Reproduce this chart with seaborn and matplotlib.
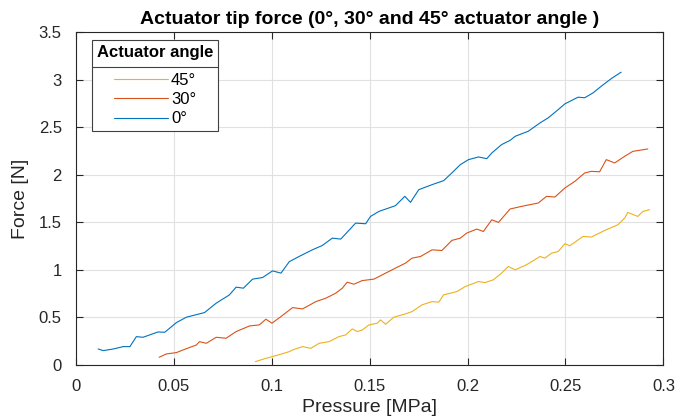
import numpy as np
import pandas as pd
import matplotlib
matplotlib.use("Agg")
import matplotlib.pyplot as plt
import seaborn as sns
from matplotlib.ticker import FuncFormatter
from matplotlib.lines import Line2D

# ---- data ----
p0 = [0.0115, 0.0141, 0.0192, 0.0243, 0.0277, 0.031, 0.0344, 0.0378, 0.042, 0.0455,
      0.0514, 0.0565, 0.0658, 0.0717, 0.0785, 0.0819, 0.0856, 0.0903, 0.0954, 0.1005,
      0.1048, 0.109, 0.114, 0.1208, 0.1259, 0.131, 0.1353, 0.1429, 0.148, 0.1505,
      0.1548, 0.1632, 0.168, 0.1709, 0.1751, 0.1819, 0.1878, 0.192, 0.1963, 0.2005,
      0.2056, 0.2098, 0.2124, 0.2174, 0.2217, 0.2243, 0.231, 0.237, 0.2412, 0.2463,
      0.2497, 0.2564, 0.2598, 0.2641, 0.2683, 0.2734, 0.2784]
f0 = [0.168, 0.151, 0.168, 0.193, 0.193, 0.298, 0.291, 0.316, 0.347, 0.344,
      0.445, 0.502, 0.551, 0.649, 0.737, 0.818, 0.807, 0.902, 0.919, 0.989,
      0.965, 1.085, 1.14, 1.21, 1.256, 1.333, 1.323, 1.491, 1.484, 1.561,
      1.614, 1.674, 1.772, 1.709, 1.842, 1.895, 1.937, 2.018, 2.105, 2.158,
      2.186, 2.168, 2.228, 2.316, 2.36, 2.403, 2.456, 2.544, 2.597, 2.684,
      2.744, 2.814, 2.808, 2.86, 2.93, 3.01, 3.077]

p30 = [0.0426, 0.0463, 0.0514, 0.0548, 0.0616, 0.0632, 0.0667, 0.0717, 0.0768, 0.0819,
       0.0887, 0.0937, 0.0971, 0.1002, 0.1048, 0.1107, 0.1158, 0.1226, 0.1277, 0.1327,
       0.1361, 0.1386, 0.142, 0.1463, 0.1522, 0.1582, 0.1632, 0.1683, 0.1717, 0.176,
       0.1819, 0.1869, 0.192, 0.1963, 0.1996, 0.2047, 0.2081, 0.2124, 0.2158, 0.2217,
       0.2276, 0.2361, 0.2403, 0.2446, 0.2497, 0.2548, 0.2598, 0.2632, 0.2674, 0.2708,
       0.2751, 0.2802, 0.2844, 0.292]
f30 = [0.081, 0.116, 0.13, 0.158, 0.21, 0.245, 0.228, 0.291, 0.281, 0.351,
       0.41, 0.421, 0.481, 0.439, 0.509, 0.603, 0.589, 0.666, 0.702, 0.754,
       0.807, 0.87, 0.849, 0.887, 0.902, 0.965, 1.018, 1.07, 1.123, 1.14,
       1.21, 1.203, 1.309, 1.333, 1.386, 1.428, 1.403, 1.526, 1.498, 1.639,
       1.667, 1.702, 1.772, 1.765, 1.86, 1.93, 2.018, 2.035, 2.03, 2.158,
       2.123, 2.193, 2.245, 2.27]

p45 = [0.0917, 0.0971, 0.1022, 0.109, 0.1107, 0.1158, 0.12, 0.1243, 0.1293, 0.1344,
       0.1378, 0.1412, 0.1437, 0.1463, 0.1497, 0.1539, 0.1556, 0.1582, 0.1624, 0.1683,
       0.1717, 0.1768, 0.1819, 0.1853, 0.1878, 0.1912, 0.1946, 0.1988, 0.2056, 0.209,
       0.2132, 0.2174, 0.2208, 0.2243, 0.2301, 0.237, 0.2395, 0.2429, 0.2463, 0.2497,
       0.2522, 0.259, 0.2632, 0.27, 0.2768, 0.2802, 0.2818, 0.2869, 0.2895, 0.2929]
f45 = [0.035, 0.07, 0.098, 0.14, 0.158, 0.193, 0.175, 0.228, 0.245, 0.298,
       0.316, 0.379, 0.351, 0.368, 0.421, 0.439, 0.474, 0.428, 0.502, 0.537,
       0.561, 0.632, 0.666, 0.66, 0.737, 0.754, 0.772, 0.824, 0.877, 0.866,
       0.895, 0.965, 1.035, 1.0, 1.053, 1.14, 1.123, 1.175, 1.193, 1.274,
       1.253, 1.351, 1.344, 1.414, 1.474, 1.544, 1.603, 1.561, 1.614, 1.632]

angles = ["45°", "30°", "0°"]
colors = {"45°": "#EDB120", "30°": "#D95319", "0°": "#0072BD"}

x_ticks = [0, 0.05, 0.1, 0.15, 0.2, 0.25, 0.3]
y_ticks = [0, 0.5, 1, 1.5, 2, 2.5, 3, 3.5]

df = pd.concat([
    pd.DataFrame({"Pressure": p45, "Force": f45, "angle": "45°"}),
    pd.DataFrame({"Pressure": p30, "Force": f30, "angle": "30°"}),
    pd.DataFrame({"Pressure": p0, "Force": f0, "angle": "0°"}),
], ignore_index=True)

# ---- style ----
sns.set_theme(style="white")
plt.rcParams["font.family"] = ["Liberation Sans", "DejaVu Sans"]
txt = "#262626"

fig = plt.figure(figsize=(6.94, 4.2), dpi=100)
ax = fig.add_axes([0.109, 0.131, 0.847, 0.793])

sns.lineplot(data=df, x="Pressure", y="Force", hue="angle", hue_order=angles,
             palette=colors, units="angle", estimator=None, sort=False,
             linewidth=0.8, ax=ax, legend=False)

ax.set_xlim(0, 0.3)
ax.set_ylim(0, 3.5)
ax.set_xticks(x_ticks)
ax.set_yticks(y_ticks)
fmt = FuncFormatter(lambda v, pos: "%g" % round(v, 4))
ax.xaxis.set_major_formatter(fmt)
ax.yaxis.set_major_formatter(fmt)
ax.grid(True, color="#e1e1e1", linewidth=0.8)
ax.set_axisbelow(True)
for s in ax.spines.values():
    s.set_visible(True)
    s.set_color(txt)
    s.set_linewidth(0.8)
ax.tick_params(direction="in", length=5, width=0.8, colors=txt, labelsize=12,
               top=True, right=True, bottom=True, left=True)
ax.tick_params(axis="x", pad=10)
ax.tick_params(axis="y", pad=10)
for lab in ax.get_xticklabels() + ax.get_yticklabels():
    lab.set_color(txt)

ax.set_xlabel("Pressure [MPa]", fontsize=14, color=txt, labelpad=4)
ax.set_ylabel("Force [N]", fontsize=14, color=txt, labelpad=7)
ax.set_title("Actuator tip force (0°, 30° and 45° actuator angle )", fontsize=14,
             fontweight="bold", color="black", pad=6)

handles = [Line2D([0], [0], color=colors[a], lw=0.8) for a in angles]
leg = ax.legend(handles, angles, title="Actuator angle", loc="upper left",
                bbox_to_anchor=(0.028, 0.976), borderaxespad=0,
                fontsize=12, title_fontsize=12,
                frameon=True, fancybox=False, edgecolor="#404040", framealpha=1,
                handlelength=3.2, handletextpad=0.2, labelspacing=0.25,
                borderpad=0.3, alignment="center")
leg.get_frame().set_linewidth(0.8)
leg.get_title().set_fontweight("bold")
leg.get_title().set_color("black")
for t in leg.get_texts():
    t.set_color("black")
leg._legend_box.sep = 9.5

# separator under legend title
fig.canvas.draw()
r = fig.canvas.get_renderer()
lb = leg.get_frame().get_window_extent(r)
tb = leg.get_title().get_window_extent(r)
eb = leg.get_texts()[0].get_window_extent(r)
yline = (tb.y0 + eb.y1) / 2
inv = fig.transFigure.inverted()
(x0f, yf), (x1f, _) = inv.transform([(lb.x0, yline), (lb.x1, yline)])
fig.add_artist(Line2D([x0f, x1f], [yf, yf], color="#404040", lw=0.8,
                      transform=fig.transFigure))

fig.savefig("out.png", dpi=100, facecolor="white")
